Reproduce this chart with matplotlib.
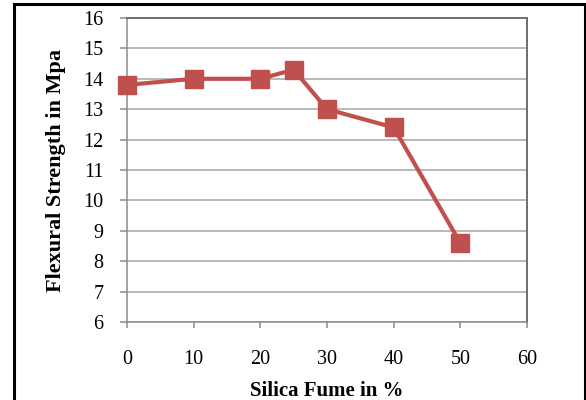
import matplotlib
matplotlib.use("Agg")
import matplotlib.pyplot as plt
from matplotlib.patches import Rectangle

silica_fume = [0, 10, 20, 25, 30, 40, 50]
flexural_strength = [13.8, 14.0, 14.0, 14.3, 13.0, 12.4, 8.6]
x_ticks = [0, 10, 20, 30, 40, 50, 60]
y_ticks = [6, 7, 8, 9, 10, 11, 12, 13, 14, 15, 16]

W, H = 586, 400
fig = plt.figure(figsize=(W / 100, H / 100), dpi=100)
fig.patch.set_facecolor("white")

# outer frame
fig.patches.append(Rectangle((14 / W, -0.05), (585 - 14) / W, (H - 4) / H + 0.05,
                             transform=fig.transFigure, fill=False,
                             edgecolor="black", linewidth=2.2))

left, right, top, bottom = 127, 527, 18, 322
ax = fig.add_axes([left / W, 1 - bottom / H, (right - left) / W, (bottom - top) / H])

ax.set_xlim(0, 60)
ax.set_ylim(6, 16)
ax.set_xticks(x_ticks)
ax.set_yticks(y_ticks)
ax.grid(axis="y", color="#a6a6a6", linewidth=1.1)
ax.set_axisbelow(True)

for side in ["left", "bottom"]:
    ax.spines[side].set_color("#8c8c8c")
    ax.spines[side].set_linewidth(1.1)
for side in ["top", "right"]:
    ax.spines[side].set_color("#6e6e6e")
    ax.spines[side].set_linewidth(1.4)

ax.plot(silica_fume, flexural_strength, color="#c0504d", linewidth=3.0,
        marker="s", markersize=13, markeredgecolor="#c0504d",
        markerfacecolor="#c0504d", clip_on=False, zorder=5)

serif = ["Liberation Serif", "DejaVu Serif"]
ax.tick_params(axis="both", direction="out", color="#8c8c8c", width=1.1,
               labelsize=14.5, labelcolor="black")
ax.tick_params(axis="x", length=4.5, pad=16)
ax.tick_params(axis="y", length=5, pad=12)
for lab in ax.get_xticklabels() + ax.get_yticklabels():
    lab.set_fontfamily(serif)

ax.set_xlabel("Silica Fume in %", fontfamily=serif, fontweight="bold",
              fontsize=15, labelpad=8)
ax.set_ylabel("Flexural Strength in Mpa", fontfamily=serif, fontweight="bold",
              fontsize=16, labelpad=12)

fig.savefig("out.png", dpi=100)
